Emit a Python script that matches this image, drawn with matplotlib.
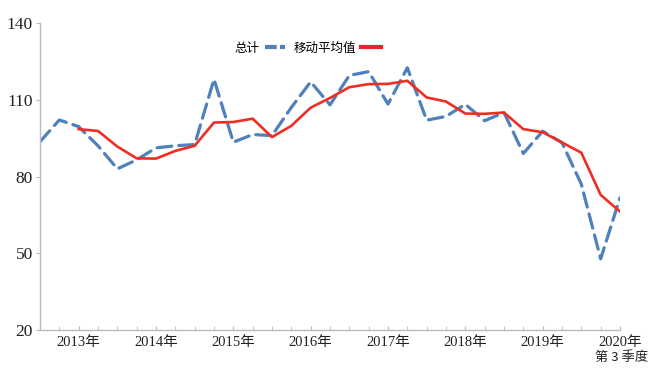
import matplotlib
matplotlib.use("Agg")
import matplotlib.pyplot as plt
from matplotlib.lines import Line2D

# ---- data ----
years = [2013, 2014, 2015, 2016, 2017, 2018, 2019, 2020]
quarters = [f"{y}年第{q}季度" for y in years for q in range(1, 5)][:31]  # 2013Q1 .. 2020Q3
total = [93.6, 102.1, 99.5, 92.0, 83.0, 86.5, 91.2, 92.0, 92.5, 118.0,
         93.4, 96.4, 96.0, 107.0, 117.0, 108.0, 119.5, 121.0, 108.3, 122.5,
         102.0, 103.5, 108.2, 101.8, 105.0, 89.0, 97.7, 93.2, 77.0, 47.8, 71.7]
moving_avg = [None, None, 98.5, 97.8, 91.7, 87.1, 87.0, 90.0, 92.0, 101.1,
              101.3, 102.6, 95.4, 99.8, 106.9, 110.7, 114.9, 116.1, 116.2, 117.4,
              110.9, 109.3, 104.6, 104.5, 105.0, 98.5, 97.3, 93.3, 89.3, 72.8, 66.3]
tick_labels = [f"{y}年" for y in years]
tick_quarter = "第 3 季度"
yticks = [20, 50, 80, 110, 140]

serif = ['Liberation Serif', 'Noto Sans CJK SC']
cjk = ['Noto Sans CJK SC', 'DejaVu Sans']

fig = plt.figure(figsize=(6.58, 3.73), dpi=100)
ax = fig.add_axes([40/658, 1-330/373, 580/658, 307/373])

x = list(range(len(quarters)))
ax.plot(x, total, color='#4F81BD', lw=2.3, linestyle=(0, (4.6, 2.2)),
        dash_capstyle='round', label='总计', zorder=2)
xm = [i for i, v in zip(x, moving_avg) if v is not None]
ym = [v for v in moving_avg if v is not None]
ax.plot(xm, ym, color='#EE2E22', lw=1.9, label='移动平均值', zorder=3)

ax.set_xlim(0, len(quarters) - 1)
ax.set_ylim(20, 140)
ax.set_yticks(yticks)
ax.set_yticklabels([str(v) for v in yticks], family=serif, fontsize=12.5, color='#222222')

label_pos = [2 + 4 * i for i in range(len(tick_labels))]
ax.set_xticks(label_pos)
ax.set_xticklabels(tick_labels, family=serif, fontsize=10.5, color='#222222')
ax.set_xticks(x, minor=True)
ax.tick_params(axis='x', which='both', direction='in', length=3, color='#BBBBBB', pad=4)
ax.tick_params(axis='y', direction='out', length=3, color='#BBBBBB', pad=2)

for s in ['top', 'right']:
    ax.spines[s].set_visible(False)
for s in ['left', 'bottom']:
    ax.spines[s].set_color('#BBBBBB')
    ax.spines[s].set_linewidth(1.0)

fig.text(648/658, 1-357/373, tick_quarter, ha='right', va='center',
         family=cjk, fontsize=9.5, color='#222222')

handles = [Line2D([0], [0], color='#4F81BD', lw=3.0, linestyle=(0, (2.8, 0.8))),
           Line2D([0], [0], color='#E3262A', lw=3.0)]
leg = ax.legend(handles, ['总计', '移动平均值'], loc='center', bbox_to_anchor=(0.462, 0.918),
                ncol=2, frameon=False, markerfirst=False, handlelength=1.6,
                handletextpad=0.4, columnspacing=0.7, prop={'family': cjk, 'size': 9})

fig.savefig('out.png', dpi=100)
